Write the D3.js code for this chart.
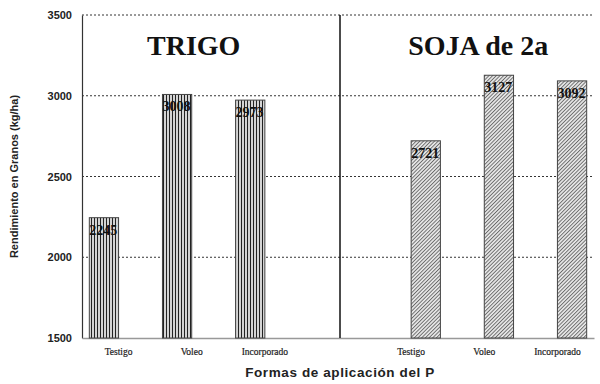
<!DOCTYPE html>
<html>
<head>
<meta charset="utf-8">
<script src="https://cdn.jsdelivr.net/npm/d3@7"></script>
<style>
  body { margin: 0; background: #fff; }
  svg { display: block; }
</style>
</head>
<body>
<svg id="chart" width="600" height="384"></svg>
<script>
// data
var categories = ["Testigo", "Voleo", "Incorporado", "", "Testigo ", "Voleo ", "Incorporado "];
var tickLabels = ["Testigo", "Voleo", "Incorporado", "", "Testigo", "Voleo", "Incorporado"];
var seriesNames = ["TRIGO", "SOJA de 2a"];
var trigoValues = [2245, 3008, 2973, null, null, null, null];
var sojaValues = [null, null, null, null, 2721, 3127, 3092];
var yTicks = [1500, 2000, 2500, 3000, 3500];

var svg = d3.select("svg#chart"),
    margin = { top: 15, right: 6, bottom: 46, left: 82 },
    width = 600 - margin.left - margin.right,
    height = 384 - margin.top - margin.bottom;

var x0 = d3.scaleBand().domain(categories).range([0, width]).padding(0);
var x1 = d3.scaleBand().domain(seriesNames).range([x0.bandwidth() * 0.1, x0.bandwidth() * 0.9]).padding(0);
var y = d3.scaleLinear().domain([1500, 3500]).range([height, 0]);

// patterns
var defs = svg.append("defs");
var pv = defs.append("pattern").attr("id", "vert")
    .attr("patternUnits", "userSpaceOnUse").attr("width", 3).attr("height", 3);
pv.append("rect").attr("width", 3).attr("height", 3).attr("fill", "#d4d4d4");
pv.append("line").attr("x1", 0.5).attr("x2", 0.5).attr("y1", 0).attr("y2", 3)
    .attr("stroke", "#222").attr("stroke-width", 1);

var pd = defs.append("pattern").attr("id", "diag")
    .attr("patternUnits", "userSpaceOnUse").attr("width", 2.6).attr("height", 2.6)
    .attr("patternTransform", "rotate(45)");
pd.append("rect").attr("width", 2.6).attr("height", 2.6).attr("fill", "#e8e8e8");
pd.append("line").attr("x1", 0.5).attr("x2", 0.5).attr("y1", 0).attr("y2", 2.6)
    .attr("stroke", "#555").attr("stroke-width", 0.8);

var g = svg.append("g")
    .attr("transform", "translate(" + margin.left + "," + margin.top + ")");

// grid
g.selectAll(".grid")
    .data(yTicks.filter(function (d) { return d > 1500; }))
    .enter().append("line")
    .attr("class", "grid")
    .attr("x1", 0).attr("x2", width)
    .attr("y1", function (d) { return y(d); })
    .attr("y2", function (d) { return y(d); })
    .attr("stroke", "#000")
    .attr("stroke-width", 0.8)
    .attr("stroke-dasharray", "2,2");

// y axis
var yAxis = g.append("g").attr("class", "axis axis--y")
    .call(d3.axisLeft(y).tickValues(yTicks).tickSize(0).tickPadding(10).tickFormat(d3.format("d")));
yAxis.select("path.domain").attr("stroke", "#333").attr("stroke-width", 1.2);
yAxis.selectAll("text")
    .style("font-family", "Liberation Sans, Arial, sans-serif")
    .style("font-size", "11px").style("font-weight", "bold").attr("fill", "#222");

// x axis
var xAxis = g.append("g").attr("class", "axis axis--x")
    .attr("transform", "translate(0," + height + ")")
    .call(d3.axisBottom(x0).tickSize(0).tickPadding(10)
        .tickFormat(function (d, i) { return tickLabels[i]; }));
xAxis.select("path.domain").attr("stroke", "#999").attr("stroke-width", 1.5);
xAxis.selectAll("text")
    .style("font-family", "Liberation Serif, Times New Roman, serif")
    .style("font-size", "9.5px").style("font-weight", "normal")
    .attr("stroke", "#222").attr("stroke-width", 0.2).attr("fill", "#222");

// separator
g.append("line")
    .attr("x1", x0(categories[3]) + x0.bandwidth() / 2 + 2)
    .attr("x2", x0(categories[3]) + x0.bandwidth() / 2 + 2)
    .attr("y1", 0).attr("y2", height)
    .attr("stroke", "#111").attr("stroke-width", 1.5);

// bars
var barData = [];
categories.forEach(function (c, i) {
    if (trigoValues[i] != null) barData.push({ cat: c, s: seriesNames[0], v: trigoValues[i], fill: "url(#vert)" });
    if (sojaValues[i] != null) barData.push({ cat: c, s: seriesNames[1], v: sojaValues[i], fill: "url(#diag)" });
});

g.selectAll(".bar")
    .data(barData)
    .enter().append("rect")
    .attr("class", "bar")
    .attr("x", function (d) { return x0(d.cat) + x1(d.s); })
    .attr("y", function (d) { return y(d.v); })
    .attr("width", x1.bandwidth())
    .attr("height", function (d) { return height - y(d.v); })
    .attr("fill", function (d) { return d.fill; })
    .attr("stroke", "#444")
    .attr("stroke-width", 1);

g.selectAll(".val")
    .data(barData)
    .enter().append("text")
    .attr("class", "val")
    .attr("x", function (d) { return x0(d.cat) + x1(d.s); })
    .attr("y", function (d) { return y(d.v) + 17; })
    .text(function (d) { return d.v; })
    .style("font-family", "Liberation Serif, Times New Roman, serif")
    .style("font-size", "14px").style("font-weight", "bold")
    .attr("fill", "#111");

// series titles
g.append("text")
    .attr("x", x0(categories[1]) + x0.bandwidth() / 2 + 2)
    .attr("y", 40)
    .attr("text-anchor", "middle")
    .text(seriesNames[0])
    .style("font-family", "Liberation Serif, Times New Roman, serif")
    .style("font-size", "28px").style("font-weight", "bold").attr("fill", "#111");

g.append("text")
    .attr("x", x0(categories[5]) + x0.bandwidth() / 2 - 6)
    .attr("y", 40)
    .attr("text-anchor", "middle")
    .text(seriesNames[1])
    .style("font-family", "Liberation Serif, Times New Roman, serif")
    .style("font-size", "28px").style("font-weight", "bold").attr("fill", "#111");

// axis titles
svg.append("text")
    .attr("transform", "translate(18," + (margin.top + height / 2) + ") rotate(-90)")
    .attr("text-anchor", "middle")
    .text("Rendimiento en Granos (kg/ha)")
    .style("font-family", "Liberation Sans, Arial, sans-serif")
    .style("font-size", "11px").style("font-weight", "bold").attr("fill", "#222");

svg.append("text")
    .attr("x", margin.left + width / 2 + 2)
    .attr("y", 377)
    .attr("text-anchor", "middle")
    .text("Formas de aplicación del P")
    .style("font-family", "Liberation Sans, Arial, sans-serif")
    .style("font-size", "13.5px").style("font-weight", "bold")
    .style("letter-spacing", "0.6px").attr("fill", "#222");
</script>
</body>
</html>
